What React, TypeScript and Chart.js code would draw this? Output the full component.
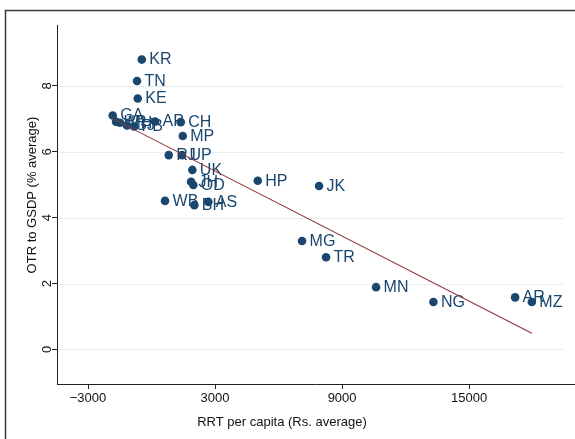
import React, { useEffect, useRef } from "react";
import { Chart, registerables } from "chart.js";

Chart.register(...registerables);

const states = [
  "KR", "TN", "KE", "GA", "HR", "MH", "GJ", "PB", "AP", "CH", "MP", "RJ", "UP", "UK",
  "JH", "OD", "WB", "BH", "AS", "HP", "JK", "MG", "TR", "MN", "NG", "AR", "MZ",
];
const rrtPerCapita = [
  -460, -685, -652, -1833, -1677, -1488, -1158, -827, 165, 1379, 1474, 812, 1441, 1927,
  1866, 1974, 637, 2022, 2683, 5017, 7912, 7109, 8243, 10605, 13312, 17172, 17961,
];
const otrToGsdp = [
  8.8, 8.15, 7.62, 7.1, 6.91, 6.88, 6.8, 6.77, 6.92, 6.9, 6.48, 5.9, 5.9, 5.45,
  5.09, 4.99, 4.51, 4.38, 4.48, 5.12, 4.96, 3.29, 2.8, 1.89, 1.44, 1.58, 1.44,
];
const fitX = [-1900, 17961];
const fitY = [7.03, 0.49];
const xTickValues = [-3000, 3000, 9000, 15000];
const yTickValues = [0, 2, 4, 6, 8];
const xTitle = "RRT per capita (Rs. average)";
const yTitle = "OTR to GSDP (% average)";

const NAVY = "#1a476f";
const MAROON = "#90353b";
const FONT = "'Liberation Sans', Arial, Helvetica, sans-serif";

const stataPlugin = {
  id: "stataLook",
  beforeDatasetsDraw(chart: any) {
    const { ctx, chartArea, scales } = chart;
    const y = scales.y;
    ctx.save();
    ctx.strokeStyle = "#e6eef0";
    ctx.lineWidth = 1;
    for (const t of y.ticks) {
      const py = Math.round(y.getPixelForValue(t.value)) + 0.5;
      ctx.beginPath();
      ctx.moveTo(chartArea.left + 2, py);
      ctx.lineTo(chartArea.right - 11, py);
      ctx.stroke();
    }
    ctx.restore();
  },
  afterDatasetDraw(chart: any, args: any) {
    if (args.index !== 0) return;
    const { ctx } = chart;
    ctx.save();
    ctx.fillStyle = NAVY;
    ctx.font = `16px ${FONT}`;
    ctx.textAlign = "left";
    ctx.textBaseline = "middle";
    args.meta.data.forEach((el: any, i: number) => {
      ctx.fillText(states[i], el.x + 7.5, el.y + 0.5);
    });
    ctx.restore();
  },
  afterDraw(chart: any) {
    const { ctx, chartArea, scales } = chart;
    const y = scales.y;
    ctx.save();
    ctx.fillStyle = "#111";
    ctx.font = `13px ${FONT}`;
    ctx.textAlign = "center";
    ctx.textBaseline = "middle";
    for (const t of y.ticks) {
      const py = y.getPixelForValue(t.value);
      ctx.save();
      ctx.translate(chartArea.left - 10, py);
      ctx.rotate(-Math.PI / 2);
      ctx.fillText(String(t.value), 0, 0);
      ctx.restore();
    }
    // axis titles
    ctx.fillText(xTitle, 282, 422);
    ctx.save();
    ctx.translate(32, 195);
    ctx.rotate(-Math.PI / 2);
    ctx.fillText(yTitle, 0, 0);
    ctx.restore();
    // outer frame
    ctx.strokeStyle = "#3a3a3a";
    ctx.lineWidth = 1.5;
    ctx.beginPath();
    ctx.moveTo(5.5, chart.height);
    ctx.lineTo(5.5, 10.5);
    ctx.lineTo(chart.width, 10.5);
    ctx.stroke();
    ctx.restore();
  },
};

export default function App() {
  const canvasRef = useRef<HTMLCanvasElement | null>(null);

  useEffect(() => {
    const canvas = canvasRef.current;
    if (!canvas) return;
    const points = states.map((_, i) => ({ x: rrtPerCapita[i], y: otrToGsdp[i] }));
    const fit = fitX.map((x, i) => ({ x, y: fitY[i] }));
    const chart = new Chart(canvas, {
      type: "scatter",
      data: {
        datasets: [
          {
            type: "scatter",
            data: points,
            pointRadius: 4.3,
            pointHoverRadius: 4.3,
            backgroundColor: NAVY,
            borderWidth: 0,
            order: 1,
          } as any,
          {
            type: "line",
            data: fit,
            borderColor: MAROON,
            borderWidth: 1.1,
            pointRadius: 0,
            fill: false,
            order: 0,
          } as any,
        ],
      },
      options: {
        responsive: false,
        maintainAspectRatio: false,
        animation: false,
        devicePixelRatio: 1,
        layout: { autoPadding: false, padding: { left: 0, top: 25, right: 0, bottom: 0 } },
        plugins: { legend: { display: false }, tooltip: { enabled: false } },
        events: [],
        scales: {
          x: {
            type: "linear",
            min: -4465,
            max: 20000,
            afterBuildTicks: (scale: any) => {
              scale.ticks = xTickValues.map((v) => ({ value: v }));
            },
            afterFit: (scale: any) => {
              scale.height = 55;
            },
            grid: {
              drawOnChartArea: false,
              drawTicks: true,
              tickLength: 5,
              tickColor: "#222",
              tickWidth: 1,
            },
            border: { display: true, color: "#222", width: 1 },
            ticks: {
              autoSkip: false,
              maxRotation: 0,
              minRotation: 0,
              padding: 2,
              color: "#111",
              font: { family: FONT, size: 13 },
              callback: (v: any) => String(v).replace("-", "\u2212"),
            },
          },
          y: {
            type: "linear",
            min: -1.05,
            max: 9.85,
            afterBuildTicks: (scale: any) => {
              scale.ticks = yTickValues.map((v) => ({ value: v }));
            },
            afterFit: (scale: any) => {
              scale.width = 57;
            },
            grid: {
              drawOnChartArea: false,
              drawTicks: true,
              tickLength: 5,
              tickColor: "#222",
              tickWidth: 1,
            },
            border: { display: true, color: "#222", width: 1 },
            ticks: { display: false },
          },
        },
      } as any,
      plugins: [stataPlugin],
    });
    return () => chart.destroy();
  }, []);

  return (
    <div style={{ position: "absolute", left: 0, top: 0, width: 575, height: 439, background: "#fff" }}>
      <canvas ref={canvasRef} width={575} height={439} style={{ display: "block" }} />
    </div>
  );
}
